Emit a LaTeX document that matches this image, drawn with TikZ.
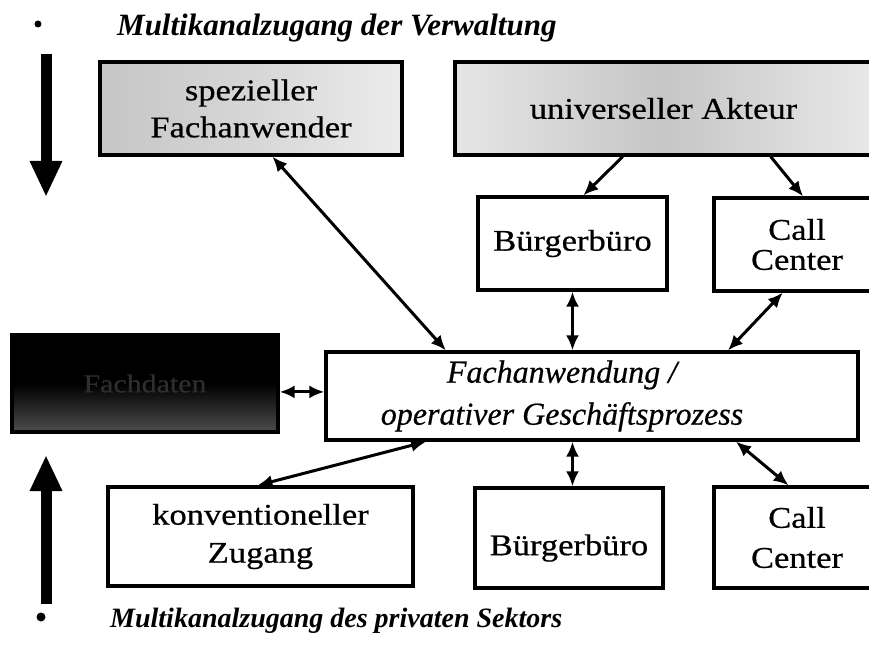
\documentclass[tikz,border=0pt]{standalone}
\usepackage{fontspec}
\setmainfont{Liberation Serif}
\newfontfamily\boxfont[FakeStretch=1.15,FakeBold=0.6]{Liberation Serif}
\newfontfamily\procfont[FakeBold=0.5]{Liberation Serif}
\usetikzlibrary{arrows.meta,calc}

\begin{document}
\begin{tikzpicture}[x=1pt,y=-1pt,
  box/.style={draw=black, line width=3.2pt, fill=white, align=center,
    inner sep=0pt},
  boxtext/.style={font=\boxfont\fontsize{30}{#1}\selectfont},
  link/.style={line width=3pt,
    {Latex[length=15pt,width=13pt]}-{Latex[length=15pt,width=13pt]}},
  oneway/.style={line width=3pt, -{Latex[length=15pt,width=13pt]}},
  flow/.style={line width=11pt, -{Triangle[length=36pt,width=30pt]}},
  heading/.style={anchor=base west, inner sep=0pt,
    font=\fontsize{#1}{36}\selectfont\bfseries\itshape},
  dot/.style={circle, fill=black, inner sep=0pt, minimum size=#1},
]
\clip (0,0) rectangle (869,647);
\fill[white] (0,0) rectangle (869,647);

% headings and side arrows
\node[dot=7pt] (dotTop) at (38,24) {};
\node[heading=31] (titleTop) at (117,36) {Multikanalzugang der Verwaltung};
\node[dot=9pt] (dotBottom) at (41,617) {};
\node[heading=28] (titleBottom) at (110,627) {Multikanalzugang des privaten Sektors};

\coordinate (downStart) at (46,54);
\coordinate (downEnd) at (46,197);
\coordinate (upStart) at (46,604);
\coordinate (upEnd) at (46,455);
\draw[flow] (downStart) -- (downEnd);
\draw[flow] (upStart) -- (upEnd);

% top row
\node[box, boxtext=37, minimum width=302pt, minimum height=93pt,
  left color=gray!45, right color=gray!15, middle color=gray!32]
  (spez) at (251,108.5) {spezieller\\Fachanwender};
\node[box, boxtext=37, minimum width=417pt, minimum height=93pt,
  left color=gray!20, right color=gray!18, middle color=gray!45]
  (univ) at (663.5,108.5) {universeller Akteur};

\node[box, boxtext=37, minimum width=189pt, minimum height=93pt]
  (bbTop) at (572.5,243.5) {B\"urgerb\"uro};
\node[box, boxtext=30, minimum width=166pt, minimum height=93pt]
  (ccTop) at (797,244.5) {Call\\Center};

% middle row
\node[box, minimum width=266pt, minimum height=97pt,
  top color=black, bottom color=black!70, middle color=black,
  text=black!82, font=\boxfont\fontsize{26}{30}\selectfont]
  (daten) at (145,383.5) {Fachdaten};
\node[box, minimum width=532pt, minimum height=88pt]
  (fach) at (592,396) {};
\node[align=center, inner sep=0pt,
  font=\procfont\fontsize{32}{42}\selectfont\itshape]
  (fachText) at (562,396) {Fachanwendung /\\operativer Gesch\"aftsprozess};

% bottom row
\node[box, boxtext=38, minimum width=305pt, minimum height=99pt]
  (konv) at (260.5,536.5) {konventioneller\\Zugang};
\node[box, boxtext=37, minimum width=188pt, minimum height=100pt]
  (bbBottom) at (569,538) {\raisebox{-10pt}[\height][\depth]{B\"urgerb\"uro}};
\node[box, boxtext=40, minimum width=166pt, minimum height=101pt]
  (ccBottom) at (797,537.5) {Call\\Center};

% connectors
\draw[oneway] ($(univ.south west)!0.403!(univ.south east)$)
  -- ($(bbTop.north west)!0.556!(bbTop.north east)$);
\draw[oneway] ($(univ.south west)!0.755!(univ.south east)$)
  -- ($(ccTop.north west)!0.536!(ccTop.north east)$);

\draw[link] ($(spez.south west)!0.57!(spez.south east)$)
  -- ($(fach.north west)!0.227!(fach.north east)$);
\draw[link] (bbTop.south) -- (bbTop.south |- fach.north);
\draw[link] ($(ccTop.south west)!0.416!(ccTop.south east)$)
  -- ($(fach.north west)!0.754!(fach.north east)$);

\path ($(fach.north west)!0.455!(fach.south west)$) coordinate (fachWest);
\draw[link] (daten.east |- fachWest) -- (fachWest);

\draw[link] ($(fach.south west)!0.19!(fach.south east)$)
  -- ($(konv.north west)!0.49!(konv.north east)$);
\draw[link] (bbTop.south |- fach.south) -- (bbTop.south |- bbBottom.north);
\draw[link] ($(fach.south west)!0.769!(fach.south east)$)
  -- ($(ccBottom.north west)!0.45!(ccBottom.north east)$);
\end{tikzpicture}
\end{document}
